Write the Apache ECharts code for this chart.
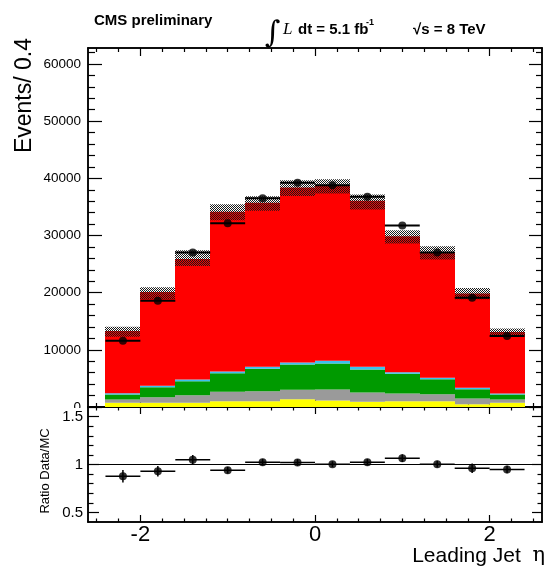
<!DOCTYPE html>
<html><head><meta charset="utf-8">
<script src="https://cdn.jsdelivr.net/npm/echarts@6/dist/echarts.min.js"></script>
<style>html,body{margin:0;padding:0;background:#fff}#c{width:546px;height:569px}</style>
</head><body><div id="c"></div>
<script>
// ---- data ----
const binCenters = [-2.2,-1.8,-1.4,-1.0,-0.6,-0.2,0.2,0.6,1.0,1.4,1.8,2.2];
const halfWidth = 0.2;
const yellowBkg = [735,735,735,1010,1010,1360,1140,910,1010,1010,490,735];
const grayBkg   = [575,975,1325,1650,1750,1650,1920,1625,1350,1230,995,575];
const greenBkg  = [875,1750,2450,3250,3920,4420,4540,4020,3440,2620,1625,875];
const cyanBkg   = [225,240,300,290,350,350,480,475,285,240,250,175];
const redMain   = [10875,16400,21060,27940,28680,30620,30620,29030,23805,21940,16510,10750];
const mcBandLow  = [12290,18830,24650,32690,34310,36930,37350,34560,28610,25820,18830,12410];
const mcBandHigh = [14036,20940,27440,35480,36880,39680,39850,37180,30940,28140,20800,13750];
const dataCounts = [11590,18580,27040,32160,36530,39210,38810,36760,31760,27040,19110,12410];
const ratioVals = [0.877,0.930,1.049,0.940,1.024,1.021,1.003,1.024,1.066,1.003,0.961,0.948];
const ratioErr  = [0.065,0.055,0.05,0.035,0.035,0.035,0.03,0.035,0.04,0.035,0.05,0.04];
const xMajorTicks = [-2,0,2];
const xMinorTicks = [-2.5,-2.25,-1.75,-1.5,-1.25,-1,-0.75,-0.5,-0.25,0.25,0.5,0.75,1,1.25,1.5,1.75,2.25,2.5];
const mainYTicks = [0,10000,20000,30000,40000,50000,60000];
const mainYMinor = [2000,4000,6000,8000,12000,14000,16000,18000,22000,24000,26000,28000,32000,34000,36000,38000,42000,44000,46000,48000,52000,54000,56000,58000,62000];
const ratioYTicks = [0.5,1,1.5];
const ratioYMinor = [0.6,0.7,0.8,0.9,1.1,1.2,1.3,1.4];

const chart = echarts.init(document.getElementById('c'), null, {renderer:'canvas'});

// checker pattern for MC uncertainty band
const pc = document.createElement('canvas'); pc.width = 2; pc.height = 2;
const pctx = pc.getContext('2d'); pctx.fillStyle = '#1a1a1a';
pctx.fillRect(0,0,1,1); pctx.fillRect(1,1,1,1);
const checker = {image: pc, repeat: 'repeat'};

const L = 88, W = 454, T1 = 48, H1 = 359, T2 = 407, H2 = 115;
const grids = [{left:L, top:T1, width:W, height:H1}, {left:L, top:T2, width:W, height:H2}];

const frameLine = {show:true, onZero:false, lineStyle:{color:'#000', width:1.5}};
function xAx(g, pos, ticks, len, label){
  return {type:'value', gridIndex:g, position:pos, min:-2.6, max:2.6,
    axisLine: frameLine,
    axisTick:{show:true, inside:true, length:len, customValues:ticks, lineStyle:{color:'#000', width:1.2}},
    axisLabel: label ? {show:true, customValues:xMajorTicks, fontSize:22, fontFamily:'Liberation Sans, Arial', color:'#000', margin:2,
        formatter: v => String(v)} : {show:false},
    splitLine:{show:false}};
}
function yAx(g, pos, ticks, len, lab, z){
  const ext = g === 0 ? {min:0, max:62800} : {min:0.4, max:1.6};
  return Object.assign({type:'value', gridIndex:g, position:pos, z:z,
    axisLine: frameLine,
    axisTick:{show:true, inside:true, length:len, customValues:ticks, lineStyle:{color:'#000', width:1.2}},
    axisLabel: lab ? Object.assign({show:true, color:'#000', fontFamily:'Liberation Sans, Arial', formatter: v => String(v)}, lab) : {show:false},
    splitLine:{show:false}}, ext);
}

const xAxes = [
  xAx(0,'bottom',xMajorTicks,8,false), xAx(0,'bottom',xMinorTicks,4,false),
  xAx(0,'top',xMajorTicks,8,false), xAx(0,'top',xMinorTicks,4,false),
  xAx(1,'bottom',xMajorTicks,7,true), xAx(1,'bottom',xMinorTicks,3.5,false),
  xAx(1,'top',xMajorTicks,7,false), xAx(1,'top',xMinorTicks,3.5,false)
];
const yAxes = [
  yAx(0,'left',mainYTicks,14,{customValues:mainYTicks, fontSize:13.5, margin:7}, 0),
  yAx(0,'left',mainYMinor,7,null,0),
  yAx(0,'right',mainYTicks,13,null,0),
  yAx(0,'right',mainYMinor,6,null,0),
  yAx(1,'left',ratioYTicks,11,{customValues:ratioYTicks, fontSize:15, margin:5}, 20),
  yAx(1,'left',ratioYMinor,5.5,null,20),
  yAx(1,'right',ratioYTicks,10,null,20),
  yAx(1,'right',ratioYMinor,4.5,null,20)
];

function rectSeries(name, data, fill){
  return {type:'custom', name, xAxisIndex:0, yAxisIndex:0, silent:true, animation:false,
    data, encode:{x:0, y:[1,2]},
    renderItem: (params, api) => {
      const c = api.value(0);
      const p0 = api.coord([c - halfWidth, api.value(1)]);
      const p1 = api.coord([c + halfWidth, api.value(2)]);
      const x0 = Math.round(p0[0]), x1 = Math.round(p1[0]);
      return {type:'rect', shape:{x:x0, y:p1[1], width:x1 - x0, height:p0[1] - p1[1]}, style:{fill}};
    }};
}

// build stack from component arrays
const layers = [[yellowBkg,'#ffff00'],[grayBkg,'#9a9a9a'],[greenBkg,'#009a00'],[cyanBkg,'#3cc0f0'],[redMain,'#ff0000']];
const base = binCenters.map(() => 0);
const series = [];
layers.forEach(([vals, col], k) => {
  const d = binCenters.map((c,i) => [c, base[i], base[i] + vals[i]]);
  vals.forEach((v,i) => base[i] += v);
  series.push(rectSeries('layer'+k, d, col));
});
series.push(rectSeries('band', binCenters.map((c,i) => [c, mcBandLow[i], mcBandHigh[i]]), checker));

// data horizontal bars
series.push({type:'custom', xAxisIndex:0, yAxisIndex:0, silent:true, animation:false,
  data: binCenters.map((c,i) => [c, dataCounts[i]]),
  renderItem: (params, api) => {
    const c = api.value(0), v = api.value(1);
    const a = api.coord([c - halfWidth, v]), b = api.coord([c + halfWidth, v]);
    return {type:'line', shape:{x1:a[0], y1:a[1], x2:b[0], y2:b[1]}, style:{stroke:'#000', lineWidth:2}};
  }});
series.push({type:'scatter', xAxisIndex:0, yAxisIndex:0, silent:true, animation:false, symbol:'circle', symbolSize:8,
  itemStyle:{color:'#000'}, data: binCenters.map((c,i) => [c, dataCounts[i]]), z:5});

// ratio panel
series.push({type:'custom', xAxisIndex:4, yAxisIndex:4, silent:true, animation:false,
  data: binCenters.map((c,i) => [c, ratioVals[i], ratioErr[i]]),
  renderItem: (params, api) => {
    const c = api.value(0), v = api.value(1), e = api.value(2);
    const a = api.coord([c - halfWidth, v]), b = api.coord([c + halfWidth, v]);
    const lo = api.coord([c, v - e]), hi = api.coord([c, v + e]);
    return {type:'group', children:[
      {type:'line', shape:{x1:a[0], y1:a[1], x2:b[0], y2:b[1]}, style:{stroke:'#000', lineWidth:1.5}},
      {type:'line', shape:{x1:lo[0], y1:lo[1], x2:hi[0], y2:hi[1]}, style:{stroke:'#000', lineWidth:1.5}}
    ]};
  }});
series.push({type:'scatter', xAxisIndex:4, yAxisIndex:4, silent:true, animation:false, symbol:'circle', symbolSize:8,
  itemStyle:{color:'#000'}, data: binCenters.map((c,i) => [c, ratioVals[i]]), z:5,
  markLine:{silent:true, symbol:'none', animation:false, label:{show:false},
    lineStyle:{color:'#000', width:1, type:'solid'}, data:[{yAxis:1}]}});

const sans = '"Liberation Sans", Arial, sans-serif';
const graphic = [
  {type:'rect', z:10, shape:{x:50, y:408, width:36, height:6}, style:{fill:'#fff'}},
  {type:'text', x:94, y:21, style:{text:'CMS preliminary', font:'bold 15px '+sans, fill:'#000', align:'left', textAlign:'left', verticalAlign:'middle', textVerticalAlign:'middle'}},
  {type:'text', x:265, y:34, style:{text:'\u222B', font:'30px "DejaVu Serif"', fill:'#000', align:'left', textAlign:'left', verticalAlign:'middle', textVerticalAlign:'middle'}},
  {type:'text', x:283, y:30, style:{text:'L', font:'italic 17px "Liberation Serif"', fill:'#000', align:'left', textAlign:'left', verticalAlign:'middle', textVerticalAlign:'middle'}},
  {type:'text', x:298, y:30, style:{text:'dt = 5.1 fb', font:'bold 15px '+sans, fill:'#000', align:'left', textAlign:'left', verticalAlign:'middle', textVerticalAlign:'middle'}},
  {type:'text', x:366, y:23, style:{text:'-1', font:'bold 9px '+sans, fill:'#000', align:'left', textAlign:'left', verticalAlign:'middle', textVerticalAlign:'middle'}},
  {type:'text', x:413, y:30, style:{text:'\u221As = 8 TeV', font:'bold 15px '+sans, fill:'#000', align:'left', textAlign:'left', verticalAlign:'middle', textVerticalAlign:'middle'}},
  {type:'text', x:25, y:38, rotation:Math.PI/2, style:{text:'Events/ 0.4', font:'23px '+sans, fill:'#000', align:'right', textAlign:'right', verticalAlign:'middle', textVerticalAlign:'middle'}},
  {type:'text', x:45, y:471, rotation:Math.PI/2, style:{text:'Ratio Data/MC', font:'13px '+sans, fill:'#000', align:'center', textAlign:'center', verticalAlign:'middle', textVerticalAlign:'middle'}},
  {type:'text', x:545, y:556, style:{text:'{a|Leading Jet  }{b|\u03B7}', fill:'#000', align:'right', textAlign:'right', verticalAlign:'middle', textVerticalAlign:'middle',
     rich:{a:{fontSize:21, fontFamily:sans, fill:'#000'}, b:{fontSize:21, fontFamily:'"DejaVu Serif"', fill:'#000'}}}}
];

chart.setOption({
  animation:false,
  backgroundColor:'#fff',
  grid: grids,
  xAxis: xAxes,
  yAxis: yAxes,
  series,
  graphic
});
</script></body></html>
